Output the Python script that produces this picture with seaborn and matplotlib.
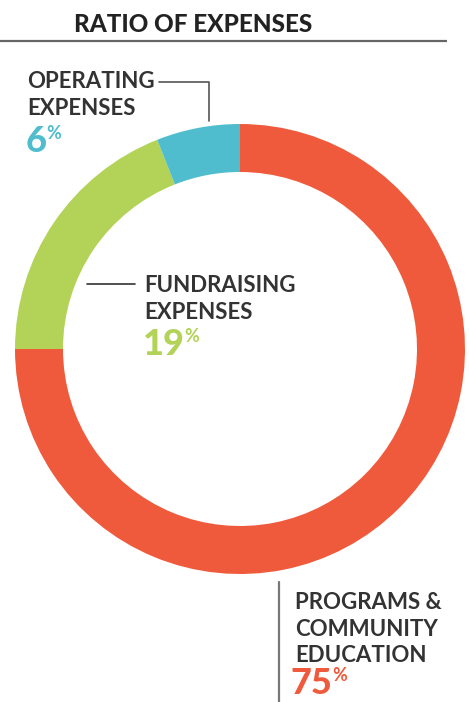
import matplotlib
matplotlib.use("Agg")
import matplotlib.pyplot as plt
import seaborn as sns

categories = ["PROGRAMS &\nCOMMUNITY\nEDUCATION", "FUNDRAISING\nEXPENSES", "OPERATING\nEXPENSES"]
values = [75, 19, 6]
hex_colors = ["#F05A3C", "#B2D357", "#4FBDCE"]

sns.set_theme(style="white")
plt.rcParams["font.family"] = ["Lato", "DejaVu Sans"]
colors = sns.color_palette(hex_colors)
ink = "#333333"

W, H = 469, 702
fig = plt.figure(figsize=(W / 100, H / 100), dpi=100)
ax = fig.add_axes([0, 0, 1, 1])

def Y(py):
    return H - py

# donut, clockwise from 12 o'clock
ax.pie(values, colors=colors, startangle=90, counterclock=False,
       center=(240, Y(349)), radius=225, frame=True,
       wedgeprops=dict(width=48, linewidth=0))
ax.set_xlim(0, W)
ax.set_ylim(0, H)
ax.set_aspect("equal")
ax.axis("off")

# title + rule
ax.text(193, Y(32), "RATIO OF EXPENSES", ha="center", va="baseline",
        fontsize=17.5, fontweight="black", color="#222222")
ax.plot([0, 447], [Y(41), Y(41)], color="#666666", lw=1.6, solid_capstyle="butt")

renderer = fig.canvas.get_renderer()

def label(x, y0, text, pct, color, step=27, gap=36, px=-1):
    lines = text.split("\n")
    for i, ln in enumerate(lines):
        ax.text(x, Y(y0 + i * step), ln, ha="left", va="baseline",
                fontsize=16, fontweight="bold", color=ink)
    yb = y0 + (len(lines) - 1) * step + gap
    t = ax.text(x + px, Y(yb), str(pct), ha="left", va="baseline",
                fontsize=26, fontweight="black", color=color)
    bb = t.get_window_extent(renderer)
    ax.text(bb.x1 - 1, Y(yb - 13), "%", ha="left", va="baseline",
            fontsize=13, fontweight="bold", color=color)

label(27, 88, categories[2], values[2], hex_colors[2], gap=37)
label(144, 292, categories[1], values[1], hex_colors[1], gap=36)
label(295, 609, categories[0], values[0], hex_colors[0], step=26.5, gap=32, px=-4)

# leader lines
ax.plot([159, 209, 209], [Y(82), Y(82), Y(121)], color="#555555", lw=1.2)
ax.plot([87, 135], [Y(284), Y(284)], color="#333333", lw=1.2)
ax.plot([279, 279], [Y(582), Y(702)], color="#777777", lw=1.6)

fig.savefig("out.png", dpi=100)
